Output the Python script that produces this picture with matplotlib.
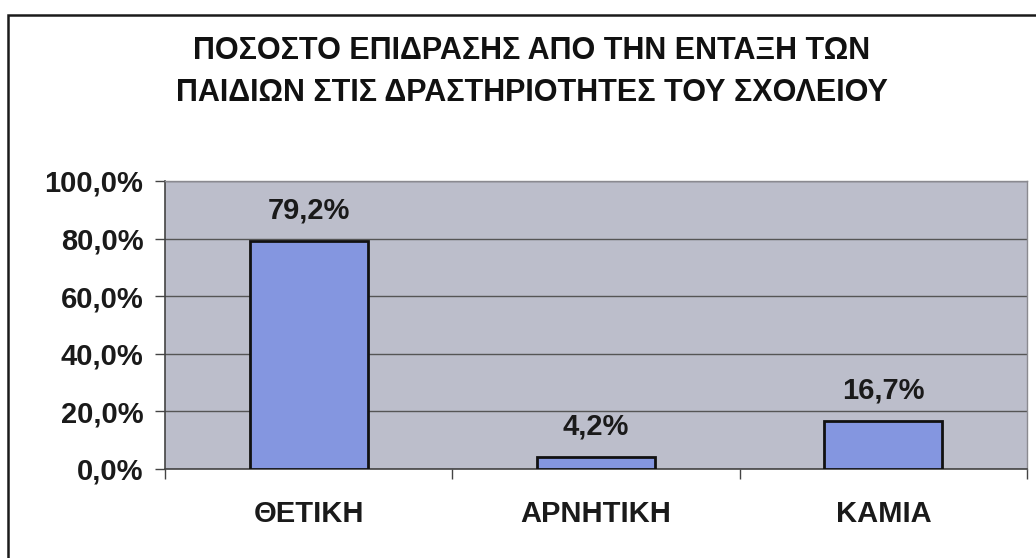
import matplotlib
matplotlib.use("Agg")
import matplotlib.pyplot as plt
from matplotlib.patches import Rectangle
from matplotlib.ticker import FixedLocator

plt.rcParams['font.family'] = ['Liberation Sans', 'DejaVu Sans']

# data
categories = ["ΘΕΤΙΚΗ", "ΑΡΝΗΤΙΚΗ", "ΚΑΜΙΑ"]
values = [79.2, 4.2, 16.7]
value_labels = ["79,2%", "4,2%", "16,7%"]
yticks = [0, 20, 40, 60, 80, 100]
ytick_labels = ["0,0%", "20,0%", "40,0%", "60,0%", "80,0%", "100,0%"]
title = "ΠΟΣΟΣΤΟ ΕΠΙΔΡΑΣΗΣ ΑΠΟ ΤΗΝ ΕΝΤΑΞΗ ΤΩΝ\nΠΑΙΔΙΩΝ ΣΤΙΣ ΔΡΑΣΤΗΡΙΟΤΗΤΕΣ ΤΟΥ ΣΧΟΛΕΙΟΥ"

W, H = 1036, 558
fig = plt.figure(figsize=(W / 100, H / 100), dpi=100)
fig.patch.set_facecolor("white")

# outer frame (only top and left edges visible in the scan)
fig.patches.append(Rectangle((8 / W, -0.1), 1.2, 1 - 15 / H + 0.1,
                             transform=fig.transFigure, fill=False,
                             edgecolor="#1a1a1a", lw=1.8))

ax = fig.add_axes([165 / W, 1 - 469 / H, (1027 - 165) / W, (469 - 181) / H])
ax.set_facecolor("#bcbecb")

x = list(range(len(categories)))
bars = ax.bar(x, values, width=0.41, color="#8496e0", edgecolor="#111111",
              lw=2, zorder=3)

for xi, v, lab in zip(x, values, value_labels):
    ax.annotate(lab, (xi, v), xytext=(0, 22), textcoords="offset points",
                ha="center", va="center", fontsize=21, fontweight="bold",
                color="#1a1a1a")

ax.set_xlim(-0.5, len(categories) - 0.5)
ax.set_ylim(0, 100)
ax.set_yticks(yticks)
ax.set_yticklabels(ytick_labels, fontsize=21, fontweight="bold", color="#1a1a1a")
ax.set_xticks(x)
ax.set_xticklabels(categories, fontsize=21, fontweight="bold", color="#1a1a1a")
ax.xaxis.set_minor_locator(FixedLocator([i - 0.5 for i in range(len(categories) + 1)]))

ax.tick_params(axis="y", length=7, width=1, color="#444444", pad=8.5)
ax.tick_params(axis="x", which="major", length=0, pad=22)
ax.tick_params(axis="x", which="minor", length=7, width=1, color="#444444")

ax.grid(axis="y", color="#555555", lw=1, zorder=1)
ax.set_axisbelow(True)

for side in ["left", "bottom"]:
    ax.spines[side].set_color("#444444")
    ax.spines[side].set_linewidth(1.2)
for side in ["top", "right"]:
    ax.spines[side].set_color("#8a8a90")
    ax.spines[side].set_linewidth(1)

fig.text(532 / W, 1 - 72 / H, title, ha="center", va="center",
         fontsize=22, fontweight="bold", color="#111111", linespacing=1.5)

fig.savefig("out.png", dpi=100)
